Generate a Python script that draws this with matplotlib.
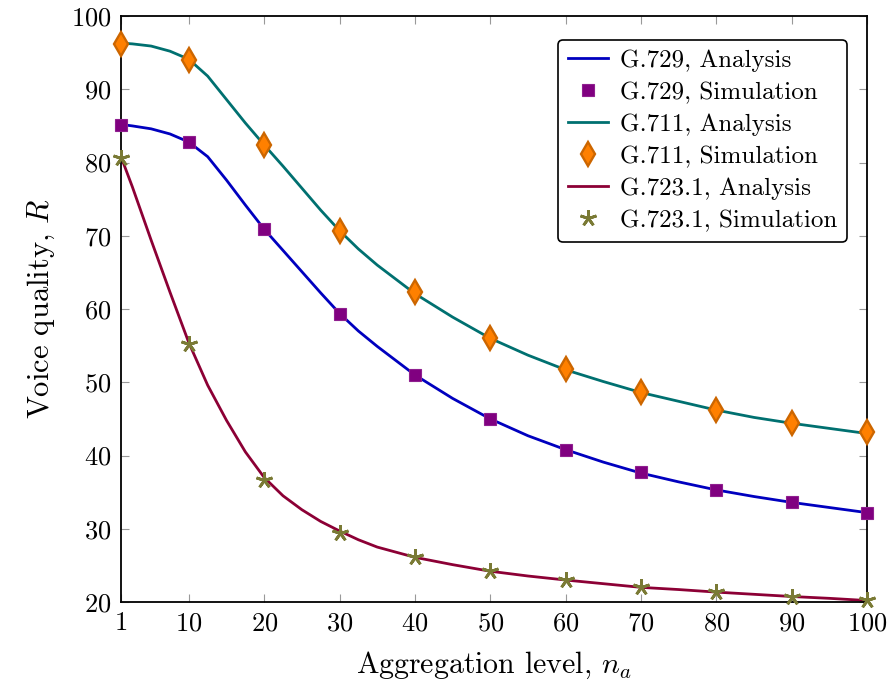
import numpy as np
import matplotlib
matplotlib.use('Agg')
import matplotlib.pyplot as plt

plt.rcParams['font.family'] = 'serif'
plt.rcParams['font.serif'] = ['cmr10', 'DejaVu Serif']
plt.rcParams['mathtext.fontset'] = 'cm'
plt.rcParams['axes.formatter.use_mathtext'] = True

# simulation points
x_sim = [1, 10, 20, 30, 40, 50, 60, 70, 80, 90, 100]
g729_sim = [85.1, 82.8, 70.9, 59.3, 51.0, 45.0, 40.7, 37.7, 35.3, 33.6, 32.2]
g711_sim = [96.2, 94.0, 82.4, 70.6, 62.3, 56.0, 51.8, 48.7, 46.2, 44.4, 43.2]
g723_sim = [80.6, 55.2, 36.7, 29.4, 26.1, 24.2, 23.0, 22.0, 21.4, 20.7, 20.3]

# analysis curves
x_ana = [1, 2.5, 5, 7.5, 10, 12.5, 15, 17.5, 20, 22.5, 25, 27.5, 30, 32.5, 35,
         40, 45, 50, 55, 60, 65, 70, 75, 80, 85, 90, 95, 100]
g729_ana = [85.2, 85.0, 84.6, 83.9, 82.8, 80.8, 77.6, 74.2, 70.9, 68.0, 65.1, 62.2, 59.4,
            57.0, 54.9, 51.0, 47.8, 45.0, 42.7, 40.8, 39.1, 37.6, 36.4, 35.3, 34.4, 33.6,
            32.9, 32.2]
g711_ana = [96.3, 96.2, 95.9, 95.2, 94.1, 91.8, 88.6, 85.4, 82.4, 79.5, 76.5, 73.5, 70.7,
            68.2, 66.0, 62.1, 58.9, 56.0, 53.7, 51.7, 50.1, 48.6, 47.4, 46.2, 45.2, 44.4,
            43.7, 43.0]
g723_ana = [80.8, 76.7, 69.4, 62.3, 55.4, 49.6, 44.8, 40.5, 37.0, 34.5, 32.6, 31.0, 29.7,
            28.5, 27.5, 26.1, 25.1, 24.2, 23.55, 23.0, 22.5, 22.0, 21.7, 21.35, 21.05,
            20.75, 20.5, 20.2]

xticks = [1, 10, 20, 30, 40, 50, 60, 70, 80, 90, 100]
yticks = [20, 30, 40, 50, 60, 70, 80, 90, 100]

fig = plt.figure(figsize=(8.91, 6.82), dpi=100)
ax = fig.add_axes([0.1358, 0.1173, 0.8373, 0.8592])

lw = 2.0
ax.plot(x_ana, g729_ana, '-', color='#0000BF', lw=lw, label='G.729, Analysis', zorder=2)
ax.plot(x_sim, g729_sim, 's', color='#800080', mec='#8f1f8f', ms=9, mew=0.8,
        label='G.729, Simulation', zorder=3, clip_on=False)
ax.plot(x_ana, g711_ana, '-', color='#007070', lw=lw, label='G.711, Analysis', zorder=2)
ax.plot(x_sim, g711_sim, 'd', color='#FF8000', mec='#CC6600', ms=12, mew=1.7,
        label='G.711, Simulation', zorder=3, clip_on=False)
ax.plot(x_ana, g723_ana, '-', color='#8C0035', lw=lw, label='G.723.1, Analysis', zorder=2)
ax.plot(x_sim, g723_sim, marker=(5, 2, 0), ls='none', color='#7A7A35', ms=12, mew=2.0,
        label='G.723.1, Simulation', zorder=3, clip_on=False)

ax.set_xlim(1, 100)
ax.set_ylim(20, 100)
ax.set_xticks(xticks)
ax.set_yticks(yticks)
ax.tick_params(direction='in', length=6, width=0.8, color='0.6', labelsize=19,
               top=True, right=True, pad=7)
for s in ax.spines.values():
    s.set_linewidth(1.3)

ax.set_xlabel('Aggregation level, $n_a$', fontsize=21.5, labelpad=10)
ax.set_ylabel('Voice quality, $R$', fontsize=22, labelpad=10)

leg = ax.legend(loc='upper right', bbox_to_anchor=(0.973, 0.959), fontsize=18,
                fancybox=True, framealpha=1, edgecolor='black', handlelength=1.6,
                borderpad=0.38, labelspacing=0.38, handletextpad=0.5, borderaxespad=0)
leg.get_frame().set_linewidth(1.2)

fig.savefig('out.png', dpi=100)
